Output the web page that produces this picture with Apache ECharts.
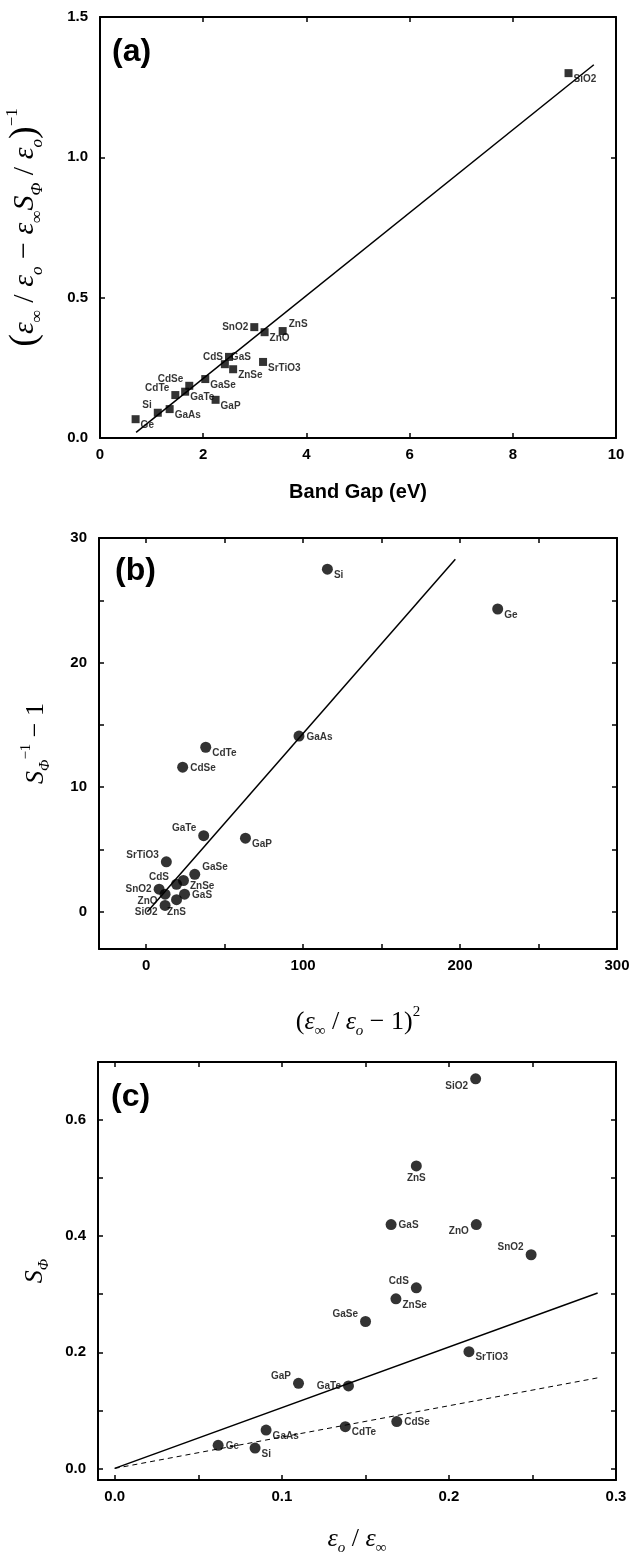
<!DOCTYPE html>
<html lang="en">
<head>
    <meta charset="UTF-8">
    <title>Band gap / S phi</title>
    <script src="https://cdn.jsdelivr.net/npm/echarts@6/dist/echarts.min.js"></script>
    <style>
        body { margin: 0; background: #fff; }
    </style>
</head>
<body>
<div id="chart" style="width: 634px;height:1558px;"></div>
<script>
    // panel (a)
    const aNames = ['Ge', 'Si', 'GaAs', 'CdTe', 'GaTe', 'CdSe', 'GaSe', 'GaP', 'CdS', 'GaS', 'ZnSe', 'SrTiO3', 'SnO2', 'ZnO', 'ZnS', 'SiO2'];
    const aGap = [0.69, 1.12, 1.35, 1.46, 1.65, 1.73, 2.04, 2.24, 2.50, 2.42, 2.58, 3.16, 2.99, 3.19, 3.54, 9.08];
    const aVal = [0.067, 0.090, 0.103, 0.153, 0.165, 0.186, 0.210, 0.136, 0.289, 0.263, 0.245, 0.271, 0.395, 0.377, 0.381, 1.30];
    const aFitX = [0.70, 9.57];
    const aFitY = [0.02, 1.33];
    const aXTicks = [0, 2, 4, 6, 8, 10];
    const aYTicks = [0, 0.5, 1.0, 1.5];

    // panel (b)
    const bNames = ['Si', 'Ge', 'GaAs', 'CdTe', 'CdSe', 'GaTe', 'GaP', 'SrTiO3', 'GaSe', 'CdS', 'ZnSe', 'SnO2', 'ZnO', 'GaS', 'ZnS', 'SiO2'];
    const bX = [115.5, 224, 97.4, 38, 23.3, 36.7, 63.3, 12.9, 31, 19.4, 23.8, 8.3, 12.1, 24.5, 19.4, 12.1];
    const bY = [27.5, 24.3, 14.1, 13.2, 11.6, 6.1, 5.9, 4.0, 3.0, 2.2, 2.5, 1.8, 1.4, 1.4, 0.96, 0.5];
    const bFitX = [0.8, 197];
    const bFitY = [0, 28.3];
    const bXTicks = [0, 50, 100, 150, 200, 250, 300];
    const bXLabels = [0, 100, 200, 300];
    const bYTicks = [0, 5, 10, 15, 20, 25, 30];
    const bYLabels = [0, 10, 20, 30];

    // panel (c)
    const cNames = ['SiO2', 'ZnS', 'GaS', 'ZnO', 'SnO2', 'CdS', 'ZnSe', 'GaSe', 'SrTiO3', 'GaP', 'GaTe', 'CdSe', 'CdTe', 'GaAs', 'Ge', 'Si'];
    const cX = [0.216, 0.1805, 0.1654, 0.2164, 0.2492, 0.1805, 0.1683, 0.1501, 0.212, 0.110, 0.1399, 0.1688, 0.138, 0.0906, 0.0619, 0.084];
    const cY = [0.671, 0.521, 0.420, 0.420, 0.368, 0.311, 0.292, 0.253, 0.201, 0.1465, 0.142, 0.0806, 0.0718, 0.066, 0.0397, 0.035];
    const cFitX = [0, 0.289];
    const cFitY = [0, 0.302];
    const cDashX = [0, 0.291];
    const cDashY = [0, 0.157];
    const cXTicks = [0, 0.05, 0.1, 0.15, 0.2, 0.25, 0.3];
    const cXLabels = [0, 0.1, 0.2, 0.3];
    const cYTicks = [0, 0.1, 0.2, 0.3, 0.4, 0.5, 0.6];
    const cYLabels = [0, 0.2, 0.4, 0.6];

    // where each point label sits (layout only)
    const aLab = ['br', 'tl', 'br', 'tl', 'br', 'tl', 'br', 'br', 'l', 'tr', 'br', 'br', 'l', 'br', 'tr', 'br'];
    const bLab = ['br', 'br', 'r', 'br', 'r', 'tl', 'br', 'tl', 'tr', 'tl', 'br', 'l', 'bl', 'r', 'b', 'bl'];
    const cLab = ['bl', 'b', 'r', 'bl', 'tl', 'tl', 'br', 'tl', 'br', 'tl', 'l', 'r', 'br', 'br', 'r', 'br'];

    const sans = 'Liberation Sans';
    const serif = 'Liberation Serif';

    function lab(code) {
        const map = {
            r: ['right', [0, 1]], l: ['left', [0, 0]], b: ['bottom', [0, 0]], t: ['top', [0, 0]],
            br: ['right', [-1, 6]], tr: ['right', [0, -7]], tl: ['left', [0, -7]], bl: ['left', [0, 7]]
        };
        const m = map[code];
        return {position: m[0], offset: m[1], distance: 2};
    }

    function pts(names, xs, ys, labs) {
        return names.map((n, i) => ({name: n, value: [xs[i], ys[i]], label: lab(labs[i])}));
    }

    function line(xs, ys) {
        return xs.map((x, i) => [x, ys[i]]);
    }

    const axisLineStyle = {show: true, onZero: false, lineStyle: {color: '#000', width: 2}};

    function mkAxis(dim, grid, min, max, ticks, labels, fmt, mirror) {
        const pos = dim === 'x' ? (mirror ? 'top' : 'bottom') : (mirror ? 'right' : 'left');
        return {
            type: 'value', gridIndex: grid, position: pos, min: min, max: max,
            axisLine: axisLineStyle,
            splitLine: {show: false},
            axisTick: {show: true, inside: true, length: 5, customValues: ticks, lineStyle: {color: '#000', width: 1.5}},
            axisLabel: {
                show: !mirror, customValues: labels, margin: dim === 'x' ? 9 : 12,
                formatter: fmt, color: '#000', fontFamily: sans, fontWeight: 'bold', fontSize: 15,
                showMinLabel: true, showMaxLabel: true
            }
        };
    }

    const f0 = v => String(Math.round(v));
    const f1 = v => v.toFixed(1);

    const rich = {
        n: {fontFamily: serif, fontSize: 26, color: '#000', lineHeight: 34},
        e: {fontFamily: serif, fontStyle: 'italic', fontSize: 26, color: '#000', lineHeight: 34},
        s: {fontFamily: serif, fontStyle: 'italic', fontSize: 15, color: '#000', verticalAlign: 'bottom', lineHeight: 30},
        u: {fontFamily: serif, fontSize: 15, color: '#000', verticalAlign: 'top', lineHeight: 30}
    };

    // bigger version for the long title of panel (a)
    const richBig = {
        p: {fontFamily: serif, fontSize: 38, color: '#000', lineHeight: 42},
        n: {fontFamily: serif, fontSize: 30, color: '#000', lineHeight: 40},
        e: {fontFamily: serif, fontStyle: 'italic', fontSize: 30, color: '#000', lineHeight: 40},
        s: {fontFamily: serif, fontStyle: 'italic', fontSize: 17, color: '#000', verticalAlign: 'bottom', lineHeight: 34},
        u: {fontFamily: serif, fontSize: 17, color: '#000', verticalAlign: 'top', lineHeight: 36}
    };

    const chart = echarts.init(document.getElementById('chart'));

    chart.setOption({
        backgroundColor: '#fff',
        animation: false,
        grid: [
            {left: 100, top: 17, width: 516, height: 421, outerBoundsMode: 'none'},
            {left: 99, top: 538, width: 518, height: 411, outerBoundsMode: 'none'},
            {left: 98, top: 1062, width: 518, height: 418, outerBoundsMode: 'none'}
        ],
        xAxis: [
            Object.assign(mkAxis('x', 0, 0, 10, aXTicks, aXTicks, f0, false), {
                name: 'Band Gap (eV)', nameLocation: 'middle', nameGap: 44,
                nameTextStyle: {fontFamily: sans, fontWeight: 'bold', fontSize: 20, color: '#000'}
            }),
            mkAxis('x', 0, 0, 10, aXTicks, aXTicks, f0, true),
            Object.assign(mkAxis('x', 1, -30, 300, bXTicks, bXLabels, f0, false), {
                name: '{n|(}{e|ε}{s|∞}{n| / }{e|ε}{s|o}{n| − 1)}{u|2}', nameLocation: 'middle', nameGap: 56,
                nameTextStyle: {rich: rich}
            }),
            mkAxis('x', 1, -30, 300, bXTicks, bXLabels, f0, true),
            Object.assign(mkAxis('x', 2, -0.01, 0.3, cXTicks, cXLabels, f1, false), {
                name: '{e|ε}{s|o}{n| / }{e|ε}{s|∞}', nameLocation: 'middle', nameGap: 42,
                nameTextStyle: {rich: rich}
            }),
            mkAxis('x', 2, -0.01, 0.3, cXTicks, cXLabels, f1, true)
        ],
        yAxis: [
            Object.assign(mkAxis('y', 0, 0, 1.5, aYTicks, aYTicks, f1, false), {
                name: '{p|(}{e|ε}{s|∞}{n| / }{e|ε}{s|o}{n| − }{e|ε}{s|∞}{e|S}{s|Φ}{n| / }{e|ε}{s|o}{p|)}{u|−1}',
                nameLocation: 'middle', nameGap: 54, nameRotate: 90,
                nameTextStyle: {rich: richBig}
            }),
            mkAxis('y', 0, 0, 1.5, aYTicks, aYTicks, f1, true),
            Object.assign(mkAxis('y', 1, -3, 30, bYTicks, bYLabels, f0, false), {
                name: '{e|S}{s|Φ}{u|−1}{n| − 1}', nameLocation: 'middle', nameGap: 46, nameRotate: 90,
                nameTextStyle: {rich: rich}
            }),
            mkAxis('y', 1, -3, 30, bYTicks, bYLabels, f0, true),
            Object.assign(mkAxis('y', 2, -0.02, 0.7, cYTicks, cYLabels, f1, false), {
                name: '{e|S}{s|Φ}', nameLocation: 'middle', nameGap: 46, nameRotate: 90,
                nameTextStyle: {rich: rich}
            }),
            mkAxis('y', 2, -0.02, 0.7, cYTicks, cYLabels, f1, true)
        ],
        graphic: [
            {type: 'text', left: 112, top: 36, style: {text: '(a)', font: 'bold 32px "Liberation Sans"', fill: '#000'}},
            {type: 'text', left: 115, top: 555, style: {text: '(b)', font: 'bold 32px "Liberation Sans"', fill: '#000'}},
            {type: 'text', left: 111, top: 1081, style: {text: '(c)', font: 'bold 32px "Liberation Sans"', fill: '#000'}}
        ],
        series: [
            {
                type: 'scatter', xAxisIndex: 0, yAxisIndex: 0, symbol: 'rect', symbolSize: 8,
                itemStyle: {color: '#000'},
                label: {show: true, formatter: '{b}', color: '#000', fontFamily: sans, fontWeight: 'bold', fontSize: 10},
                data: pts(aNames, aGap, aVal, aLab)
            },
            {
                type: 'line', xAxisIndex: 0, yAxisIndex: 0, showSymbol: false, silent: true,
                lineStyle: {color: '#000', width: 1.5}, data: line(aFitX, aFitY)
            },
            {
                type: 'scatter', xAxisIndex: 2, yAxisIndex: 2, symbol: 'circle', symbolSize: 11,
                itemStyle: {color: '#000'},
                label: {show: true, formatter: '{b}', color: '#000', fontFamily: sans, fontWeight: 'bold', fontSize: 10},
                data: pts(bNames, bX, bY, bLab)
            },
            {
                type: 'line', xAxisIndex: 2, yAxisIndex: 2, showSymbol: false, silent: true,
                lineStyle: {color: '#000', width: 1.5}, data: line(bFitX, bFitY)
            },
            {
                type: 'scatter', xAxisIndex: 4, yAxisIndex: 4, symbol: 'circle', symbolSize: 11,
                itemStyle: {color: '#000'},
                label: {show: true, formatter: '{b}', color: '#000', fontFamily: sans, fontWeight: 'bold', fontSize: 10},
                data: pts(cNames, cX, cY, cLab)
            },
            {
                type: 'line', xAxisIndex: 4, yAxisIndex: 4, showSymbol: false, silent: true,
                lineStyle: {color: '#000', width: 1.5}, data: line(cFitX, cFitY)
            },
            {
                type: 'line', xAxisIndex: 4, yAxisIndex: 4, showSymbol: false, silent: true,
                lineStyle: {color: '#000', width: 1, type: [5, 4]}, data: line(cDashX, cDashY)
            }
        ]
    });
</script>
</body>
</html>
